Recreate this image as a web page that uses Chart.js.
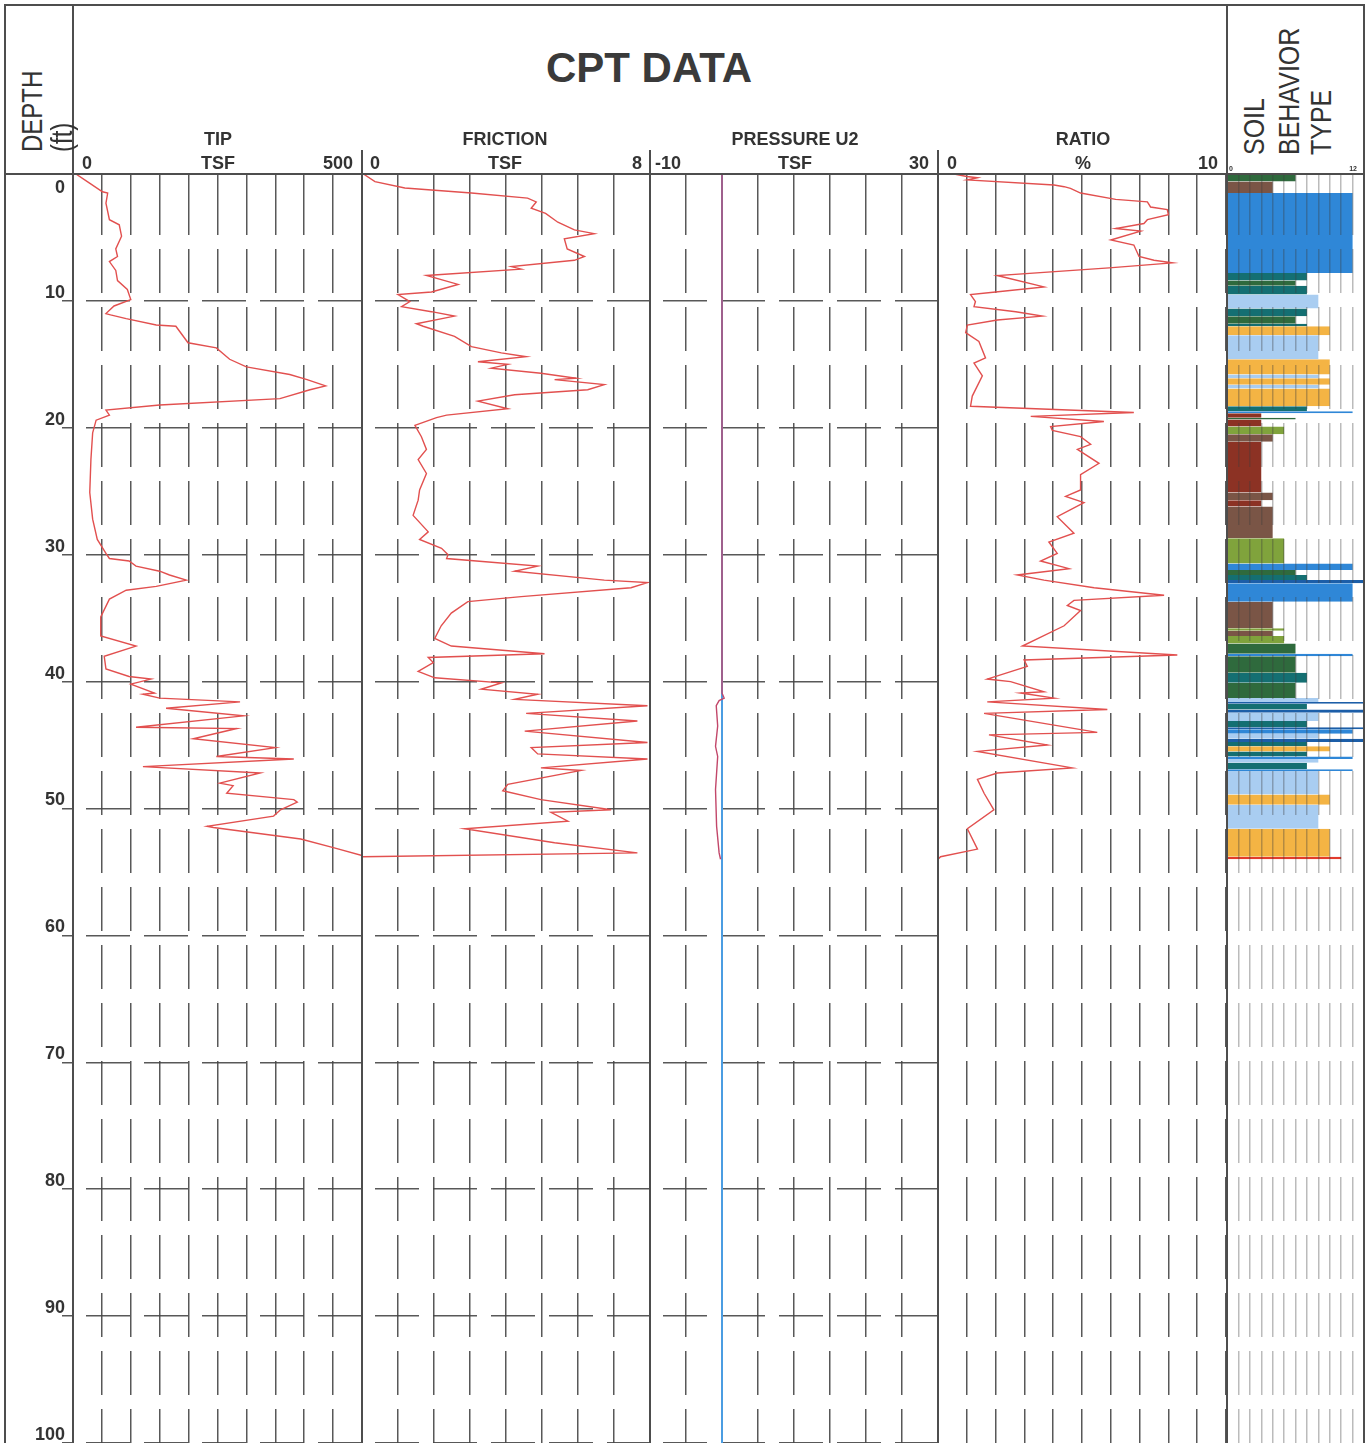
<!DOCTYPE html>
<html>
<head>
<meta charset="utf-8">
<title>CPT DATA</title>
<script src="https://cdn.jsdelivr.net/npm/chart.js@4.4.1/dist/chart.umd.min.js"></script>
<style>
  body { margin: 0; background: #fff; }
  #page { position: relative; width: 1370px; height: 1443px; overflow: hidden; font-family: "Liberation Sans", Arial, sans-serif; color: #333; }
  #page canvas { position: absolute; top: 174px; }
  .ln { position: absolute; background: #4d4d4d; z-index: 2; }
  .lbl { position: absolute; font-weight: bold; font-size: 18px; line-height: 1; white-space: nowrap; z-index: 3; }
  .mid { transform: translateX(-50%); }
  .end { transform: translateX(-100%); }
  .rot { position: absolute; font-size: 24px; line-height: 1; white-space: nowrap; transform-origin: 0 0; transform: rotate(-90deg) scaleY(1.2); z-index: 3; }
</style>
</head>
<body>
<div id="page">
  <canvas id="tipChart" width="362" height="1269" style="left:0px"></canvas>
  <canvas id="frictionChart" width="288" height="1269" style="left:362px"></canvas>
  <canvas id="pressureChart" width="288" height="1269" style="left:650px"></canvas>
  <canvas id="ratioChart" width="288" height="1269" style="left:938px"></canvas>
  <canvas id="sbtChart" width="137" height="1269" style="left:1227px"></canvas>

  <!-- frame -->
  <div class="ln" style="left:5px;top:4px;width:1360px;height:2px"></div>
  <div class="ln" style="left:5px;top:173px;width:1360px;height:2px"></div>
  <div class="ln" style="left:4px;top:4px;width:2px;height:1440px"></div>
  <div class="ln" style="left:72px;top:4px;width:2px;height:1440px"></div>
  <div class="ln" style="left:361px;top:150px;width:2px;height:1300px"></div>
  <div class="ln" style="left:649px;top:150px;width:2px;height:1300px"></div>
  <div class="ln" style="left:937px;top:150px;width:2px;height:1300px"></div>
  <div class="ln" style="left:1226px;top:4px;width:2px;height:1440px"></div>
  <div class="ln" style="left:1363px;top:4px;width:2px;height:1440px"></div>

  <!-- header -->
  <div class="lbl mid" style="left:649px;top:47px;font-size:42px;color:#3a3a3a">CPT DATA</div>
  <div class="rot" style="left:18px;top:152px">DEPTH</div>
  <div class="rot" style="left:48px;top:152px">(ft)</div>
  <div class="rot" style="left:1239px;top:155px;font-size:25px">SOIL</div>
  <div class="rot" style="left:1274px;top:155px;font-size:25px">BEHAVIOR</div>
  <div class="rot" style="left:1306px;top:155px;font-size:25px">TYPE</div>

  <div class="lbl mid" style="left:218px;top:130px">TIP</div>
  <div class="lbl mid" style="left:218px;top:154px">TSF</div>
  <div class="lbl" style="left:82px;top:154px">0</div>
  <div class="lbl end" style="left:353px;top:154px">500</div>

  <div class="lbl mid" style="left:505px;top:130px">FRICTION</div>
  <div class="lbl mid" style="left:505px;top:154px">TSF</div>
  <div class="lbl" style="left:370px;top:154px">0</div>
  <div class="lbl end" style="left:642px;top:154px">8</div>

  <div class="lbl mid" style="left:795px;top:130px">PRESSURE U2</div>
  <div class="lbl mid" style="left:795px;top:154px">TSF</div>
  <div class="lbl" style="left:655px;top:154px">-10</div>
  <div class="lbl end" style="left:929px;top:154px">30</div>

  <div class="lbl mid" style="left:1083px;top:130px">RATIO</div>
  <div class="lbl mid" style="left:1083px;top:154px">%</div>
  <div class="lbl" style="left:947px;top:154px">0</div>
  <div class="lbl end" style="left:1218px;top:154px">10</div>

  <div class="lbl" style="left:1229px;top:165px;font-size:7px">0</div>
  <div class="lbl end" style="left:1357px;top:165px;font-size:7px">12</div>
</div>

<script>
// depth (ft) / value pairs
const tipDepth = [0, 0.7, 1.4, 1.5, 2.3, 3.6, 4.0, 4.9, 5.9, 6.5, 6.9, 7.6, 8.4, 9.1, 9.9, 10.4, 11.0, 11.1, 11.4, 11.9,
    12.0, 13.3, 13.7, 14.6, 15.2, 15.8, 16.2, 16.7, 17.0, 17.7, 18.2, 18.6, 19.0, 19.4, 20.4, 22.5, 25.1, 27.2, 28.8, 29.9,
    30.3, 30.5, 30.9, 31.3, 31.6, 32.0, 32.5, 32.8, 33.5, 34.9, 36.4, 37.2, 38.0, 39.0, 39.6, 39.8, 40.2, 40.9, 41.0, 41.3,
    41.6, 42.1, 42.7, 43.6, 43.7, 44.5, 45.2, 45.9, 46.1, 46.7, 47.2, 48.0, 48.2, 48.8, 49.3, 49.5, 50.1, 50.6, 51.4, 51.5,
    52.4, 53.1, 53.7];
const tipTsf = [5, 28, 51, 60, 57, 63, 80, 84, 74, 77, 63, 74, 77, 94, 100, 71, 57, 65, 92, 144,
    178, 199, 248, 271, 300, 375, 405, 437, 410, 358, 150, 57, 63, 40, 34, 31, 29, 34, 42, 57,
    63, 97, 109, 150, 167, 196, 144, 92, 63, 48, 48, 109, 54, 57, 97, 135, 100, 141, 121, 150,
    289, 161, 295, 109, 283, 208, 350, 248, 382, 121, 324, 254, 277, 266, 382, 388, 359, 347, 232, 243,
    394, 452, 500];

const frictionDepth = [0, 0.6, 1.1, 1.5, 1.9, 2.2, 2.7, 3.1, 3.8, 4.4, 4.7, 5.1, 5.9, 6.5, 6.8, 7.3, 7.5, 8.0, 8.7, 9.3,
    9.5, 10.05, 10.45, 10.85, 11.2, 11.8, 12.0, 12.8, 13.6, 14.1, 14.4, 14.8, 15.0, 15.3, 15.7, 16.1, 16.2, 16.6, 17.0, 17.4,
    17.9, 18.5, 19.0, 19.2, 19.8, 20.7, 21.7, 22.5, 23.6, 24.9, 25.7, 26.9, 28.2, 28.8, 29.5, 30.0, 30.3, 30.9, 31.3, 32.0,
    32.2, 32.6, 33.3, 33.7, 34.6, 35.6, 36.6, 37.2, 37.8, 38.1, 38.5, 39.2, 39.7, 40.1, 40.6, 41.0, 41.4, 41.9, 42.5, 43.1,
    43.9, 44.8, 45.2, 45.7, 46.1, 46.8, 47.0, 48.1, 48.6, 49.3, 50.1, 50.3, 51.0, 51.6, 52.7, 53.5, 53.8];
const frictionTsf = [0.04, 0.36, 1.19, 3.04, 4.6, 4.84, 4.7, 5.1, 5.44, 5.9, 6.45, 5.62, 5.7, 6.18, 5.9, 4.15, 4.42, 1.79, 2.67, 1.93,
    1.0, 1.33, 1.1, 1.93, 2.57, 1.51, 1.7, 2.57, 3.04, 3.87, 4.56, 3.22, 4.05, 3.59, 4.97, 5.95, 5.35, 6.73, 6.27, 4.24,
    3.22, 4.05, 2.35, 2.07, 1.47, 1.65, 1.79, 1.56, 1.79, 1.6, 1.56, 1.42, 1.84, 1.6, 2.21, 2.39, 2.35, 4.88, 4.24, 6.73,
    7.93, 7.47, 4.42, 2.94, 2.48, 2.2, 2.02, 2.48, 5.07, 1.84, 1.98, 1.56, 2.02, 3.87, 3.31, 4.88, 4.24, 7.93, 4.56, 7.65,
    4.52, 7.93, 4.7, 4.88, 7.93, 4.97, 6.09, 4.05, 3.91, 4.97, 6.92, 5.25, 5.72, 2.85, 5.35, 7.65, 0];

const u2Depth = [0, 40.9, 41.3, 41.5, 41.9, 43.5, 45.1, 45.9, 48.5, 51.4, 53.5, 54.0];
const u2Tsf = [0, 0, 0.3, -0.4, -0.8, -0.6, -0.9, -0.6, -0.9, -0.75, -0.4, -0.2];
const u0Depth = [0, 100];
const u0Tsf = [0, 0];

const ratioDepth = [0, 0.2, 0.3, 0.47, 0.87, 1.0, 1.13, 1.5, 2.0, 2.2, 2.6, 2.8, 3.2, 3.6, 3.9, 4.3, 4.5, 5.2, 5.6, 6.5,
    6.8, 7.0, 7.4, 8.0, 8.9, 9.3, 9.5, 10.05, 10.45, 10.85, 11.2, 11.5, 11.9, 12.5, 13.2, 14.5, 14.9, 15.9, 17.5, 18.3,
    18.8, 19.1, 19.5, 19.9, 20.2, 20.7, 21.3, 21.7, 22.8, 23.7, 24.9, 25.4, 25.9, 27.0, 28.3, 29.0, 29.9, 30.5, 31.1, 31.6,
    32.0, 32.6, 33.2, 33.6, 34.0, 34.4, 35.6, 37.2, 37.9, 38.3, 38.8, 39.8, 40.0, 40.8, 40.9, 41.3, 41.6, 42.2, 42.5, 44.0,
    44.2, 45.0, 45.5, 46.8, 47.2, 47.7, 48.8, 50.1, 51.6, 53.2, 53.8, 54.0];
const ratioPct = [0.56, 1.0, 1.37, 1.02, 4.03, 4.38, 4.6, 4.95, 6.17, 7.27, 7.38, 7.96, 8.0, 7.27, 7.15, 6.17, 7.04, 6.0, 6.8, 6.98,
    7.5, 8.14, 5.94, 2.06, 3.68, 2.0, 1.13, 1.3, 1.25, 2.7, 3.62, 2.06, 1.02, 0.96, 1.42, 1.65, 1.25, 1.54, 1.19, 1.13,
    6.8, 3.22, 5.76, 3.91, 3.97, 4.95, 5.3, 4.84, 5.59, 4.95, 4.95, 4.43, 5.07, 4.14, 4.72, 3.85, 4.14, 3.56, 4.55, 2.75,
    3.68, 5.42, 7.85, 4.72, 4.49, 4.95, 4.38, 2.93, 8.31, 2.99, 3.1, 1.71, 2.52, 3.68, 2.87, 4.03, 1.71, 5.88, 1.6, 5.53,
    1.77, 3.8, 1.37, 4.66, 2.06, 1.37, 1.6, 1.94, 1.02, 1.37, 0.09, 0];

// soil behavior type layers: top / bottom depth and zone number (bar length)
const sbtTop = [0, 0.6, 1.5, 7.8, 8.4, 8.8, 9.5, 10.6, 11.2, 11.8, 12.0, 12.7, 14.6, 15.8, 16.1, 16.6, 16.9, 18.3, 18.7, 18.85,
    19.2, 19.35, 19.9, 20.5, 21.1, 25.1, 25.7, 26.2, 28.7, 30.7, 31.2, 31.6, 32.0, 32.25, 33.7, 35.8, 36.0, 36.4, 37.0, 37.8,
    38.0, 39.3, 40.1, 41.3, 41.6, 41.75, 42.2, 42.45, 43.1, 43.6, 43.75, 44.1, 44.5, 44.75, 45.1, 45.5, 45.9, 46.1, 46.4, 46.9,
    47.05, 48.9, 49.7, 51.6, 53.8];
const sbtBottom = [0.6, 1.5, 7.8, 8.4, 8.8, 9.5, 10.6, 11.2, 11.8, 12.0, 12.7, 14.6, 15.8, 16.1, 16.6, 16.9, 18.3, 18.7, 18.85, 19.2,
    19.35, 19.9, 20.5, 21.1, 25.1, 25.7, 26.2, 28.7, 30.7, 31.2, 31.6, 32.0, 32.25, 33.7, 35.8, 36.0, 36.4, 37.0, 37.8, 38.0,
    39.3, 40.1, 41.3, 41.6, 41.75, 42.2, 42.45, 43.1, 43.6, 43.75, 44.1, 44.5, 44.75, 45.1, 45.5, 45.9, 46.1, 46.4, 46.9, 47.05,
    48.9, 49.7, 51.6, 53.8, 54.0];
const sbtZone = [6, 4, 11, 7, 6, 7, 8, 7, 6, 7, 9, 8, 9, 8, 9, 8, 9, 7, 11, 3,
    6, 3, 5, 4, 3, 4, 3, 4, 5, 11, 6, 7, 12, 11, 4, 5, 4, 5, 6, 11,
    6, 7, 6, 8, 12, 7, 12, 8, 7, 12, 11, 8, 12, 7, 9, 7, 11, 8, 7, 11,
    8, 9, 8, 9, 10];

const ZONE_COLORS = {
    3: '#8c3224', 4: '#7a5546', 5: '#80a33c', 6: '#2f6a3d', 7: '#146f72',
    8: '#a9cdf1', 9: '#f4b444', 10: '#e23b2c', 11: '#2f87d7', 12: '#1c5ea8'
};

const FONT = '"Liberation Sans", Arial, sans-serif';
const GRID_COLOR = 'rgba(70,70,70,0.9)';
const CURVE_RED = '#e2504f';

// broken vertical grid lines (first dash longer, then regular gaps)
const vDash = [61, 14];
for (let i = 0; i < 22; i++) vDash.push(44, 14);

const charts = {};

function valueScale(min, max, step, onTop) {
    return {
        type: 'linear',
        position: 'top',
        min: min,
        max: max,
        ticks: { display: false, stepSize: step },
        grid: { color: onTop ? 'rgba(60,60,60,0.35)' : GRID_COLOR, lineWidth: 1.5, drawTicks: false, z: onTop ? 1 : 0 },
        border: { display: false, dash: vDash },
        afterFit: function(scale) {
            scale.height = 0;
            scale.paddingLeft = 0;
            scale.paddingRight = 0;
        }
    };
}

function depthScale(withLabels, withGrid) {
    return {
        type: 'linear',
        reverse: true,
        min: 0,
        max: 100,
        ticks: {
            display: withLabels,
            stepSize: 10,
            padding: -3,
            labelOffset: -8,
            color: '#333',
            font: { family: FONT, size: 18, weight: 'bold' },
            callback: function(value) {
                // keep the 0 label below the header line
                return value === 0 ? ['', '', '0'] : value;
            }
        },
        grid: { display: withGrid, color: GRID_COLOR, lineWidth: 1.5, drawTicks: withLabels, tickLength: 11 },
        border: { display: false, dash: [44, 14], dashOffset: 45 },
        afterFit: function(scale) {
            scale.width = withLabels ? 73 : 0;
            scale.paddingTop = 0;
            scale.paddingBottom = 0;
        }
    };
}

function curve(depths, values, color, width) {
    return {
        data: depths.map((d, i) => ({ x: values[i], y: d })),
        borderColor: color,
        borderWidth: width,
        pointRadius: 0,
        fill: false,
        tension: 0
    };
}

function renderLog(id, datasets, xScale, yScale) {
    const ctx = document.getElementById(id);
    if (charts[id]) {
        charts[id].destroy();
    }
    charts[id] = new Chart(ctx, {
        type: 'line',
        data: { datasets: datasets },
        options: {
            responsive: false,
            animation: false,
            indexAxis: 'y',
            spanGaps: false,
            layout: { padding: 0 },
            plugins: {
                legend: { display: false },
                tooltip: { enabled: false }
            },
            scales: { x: xScale, y: yScale }
        }
    });
}

function sbtDatasets() {
    const zones = [...new Set(sbtZone)].sort((a, b) => a - b);
    return zones.map(z => {
        const pts = [];
        sbtZone.forEach((zone, i) => {
            if (zone === z) {
                pts.push({ x: z, y: sbtTop[i] }, { x: z, y: sbtBottom[i] }, { x: null, y: sbtBottom[i] });
            }
        });
        return {
            data: pts,
            fill: 'origin',
            backgroundColor: ZONE_COLORS[z],
            borderWidth: 0,
            pointRadius: 0
        };
    });
}

renderLog('tipChart', [curve(tipDepth, tipTsf, CURVE_RED, 1.4)],
    valueScale(0, 500, 50), depthScale(true, true));
renderLog('frictionChart', [curve(frictionDepth, frictionTsf, CURVE_RED, 1.4)],
    valueScale(0, 8, 1), depthScale(false, true));
// first dataset is drawn on top: u2 over the u0 line
renderLog('pressureChart', [curve(u2Depth, u2Tsf, '#c2476a', 1.4), curve(u0Depth, u0Tsf, '#4b9de2', 2)],
    valueScale(-10, 30, 5), depthScale(false, true));
renderLog('ratioChart', [curve(ratioDepth, ratioPct, CURVE_RED, 1.4)],
    valueScale(0, 10, 1), depthScale(false, false));
renderLog('sbtChart', sbtDatasets(),
    valueScale(0, 12, 1, true), depthScale(false, false));
</script>
</body>
</html>
